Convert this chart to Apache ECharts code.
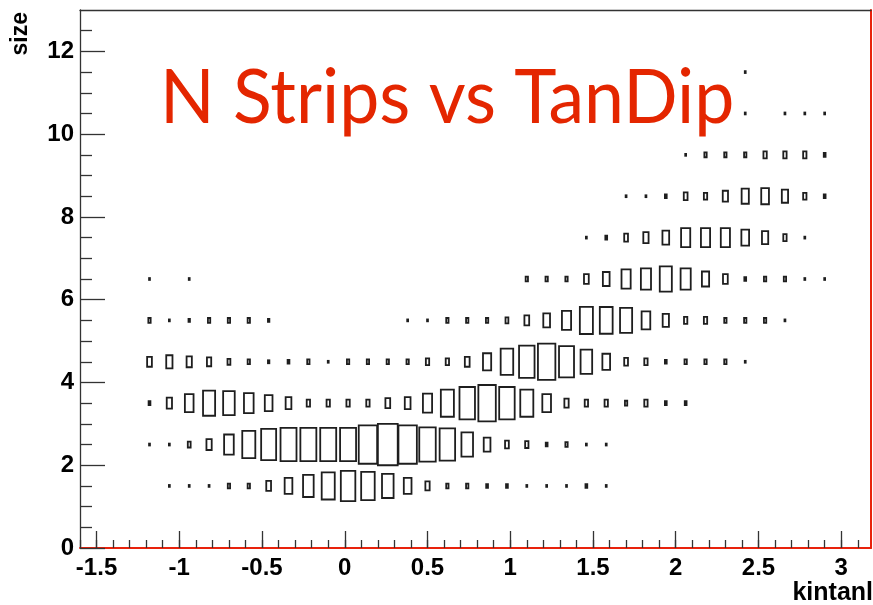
<!DOCTYPE html>
<html>
<head>
<meta charset="utf-8">
<script src="https://cdn.jsdelivr.net/npm/echarts@6/dist/echarts.min.js"></script>
<style>
  html, body { margin: 0; padding: 0; background: #ffffff; }
  #chart { width: 873px; height: 605px; }
</style>
</head>
<body>
<div id="chart"></div>
<script>
// kintanl bins: 40 bins of width 0.12 starting at -1.6
const xBinCenters = [-1.54, -1.42, -1.30, -1.18, -1.06, -0.94, -0.82, -0.70, -0.58, -0.46,
                     -0.34, -0.22, -0.10, 0.02, 0.14, 0.26, 0.38, 0.50, 0.62, 0.74,
                     0.86, 0.98, 1.10, 1.22, 1.34, 1.46, 1.58, 1.70, 1.82, 1.94,
                     2.06, 2.18, 2.30, 2.42, 2.54, 2.66, 2.78, 2.90, 3.02, 3.14];
const xBinWidth = 0.12;
const yBinHeight = 1;

// strip-count rows (bin centres) and their entries per kintanl bin
const sizeRows = [1.5, 2.5, 3.5, 4.5, 5.5, 6.5, 7.5, 8.5, 9.5, 10.5, 11.5];

const size1 = [0,0,0,0,2,2,2,13,13,56, 146,277,419,518,451,330,146,45,13,13, 8,8,2,2,2,8,2,0,0,0, 0,0,0,0,0,0,0,0,0,0];
const size2 = [0,0,0,2,2,20,68,229,419,553, 628,628,628,628,834,970,834,667,590,330, 111,35,27,8,13,2,2,0,0,0, 0,0,0,0,0,0,0,0,0,0];
const size3 = [0,0,0,8,68,185,359,330,229,146, 81,27,27,27,27,56,81,206,419,590, 748,590,419,185,45,27,27,13,27,8, 8,0,0,0,0,0,0,0,0,0];
const size4 = [0,0,0,56,96,68,45,20,13,5, 8,13,2,13,13,13,13,27,27,56, 165,388,590,748,553,330,146,35,27,8, 13,13,13,2,0,0,0,0,0,0];
const size5 = [0,0,0,13,2,5,13,13,13,5, 0,0,0,0,0,0,2,2,13,13, 13,20,56,111,206,419,405,359,185,96, 27,27,13,13,13,2,0,0,0,0];
const size6 = [0,0,0,2,0,2,0,0,0,0, 0,0,0,0,0,0,0,0,0,0, 0,0,13,13,13,56,111,206,252,359, 252,128,56,8,13,13,2,2,0,0];
const size7 = [0,0,0,0,0,0,0,0,0,0, 0,0,0,0,0,0,0,0,0,0, 0,0,0,0,0,2,8,35,68,111, 206,206,206,146,96,27,2,0,0,0];
const size8 = [0,0,0,0,0,0,0,0,0,0, 0,0,0,0,0,0,0,0,0,0, 0,0,0,0,0,0,0,2,2,8, 35,27,68,128,146,96,27,8,0,0];
const size9 = [0,0,0,0,0,0,0,0,0,0, 0,0,0,0,0,0,0,0,0,0, 0,0,0,0,0,0,0,0,0,0, 2,13,13,13,27,27,27,8,0,0];
const size10 = [0,0,0,0,0,0,0,0,0,0, 0,0,0,0,0,0,0,0,0,0, 0,0,0,0,0,0,0,0,0,0, 0,0,0,2,0,2,2,2,0,0];
const size11 = [0,0,0,0,0,0,0,0,0,0, 0,0,0,0,0,0,0,0,0,0, 0,0,0,0,0,0,0,0,0,0, 0,0,0,2,0,0,0,0,0,0];
const rowCounts = [size1, size2, size3, size4, size5, size6, size7, size8, size9, size10, size11];

// axis ticks and labels
const xMajorTicks = [-1.5, -1, -0.5, 0, 0.5, 1, 1.5, 2, 2.5, 3];
const xMinorTicks = [-1.6, -1.5, -1.4, -1.3, -1.2, -1.1, -1.0, -0.9, -0.8, -0.7, -0.6, -0.5, -0.4, -0.3, -0.2, -0.1,
                     0, 0.1, 0.2, 0.3, 0.4, 0.5, 0.6, 0.7, 0.8, 0.9, 1.0, 1.1, 1.2, 1.3, 1.4, 1.5, 1.6, 1.7, 1.8, 1.9,
                     2.0, 2.1, 2.2, 2.3, 2.4, 2.5, 2.6, 2.7, 2.8, 2.9, 3.0, 3.1];
const yMajorTicks = [0, 2, 4, 6, 8, 10, 12];
const yMinorTicks = [0.5, 1, 1.5, 2.5, 3, 3.5, 4.5, 5, 5.5, 6.5, 7, 7.5, 8.5, 9, 9.5, 10.5, 11, 11.5, 12.5];

const titleText = 'N Strips vs TanDip';
const xTitle = 'kintanl';
const yTitle = 'size';

// flatten into [x, y, count] cells
const cells = [];
rowCounts.forEach(function (row, r) {
  row.forEach(function (c, i) {
    if (c > 0) cells.push([xBinCenters[i], sizeRows[r], c]);
  });
});
const maxCount = Math.max.apply(null, cells.map(function (d) { return d[2]; }));

const axisColor = '#333333';
const redLine = '#e8220c';
const labelFont = { fontFamily: 'Liberation Sans, Arial, sans-serif', fontWeight: 'bold', fontSize: 24, color: '#000000' };

// box size grows with the square root of the cell content (area proportional to content)
function renderBox(params, api) {
  const x = api.value(0), y = api.value(1), v = api.value(2);
  const s = Math.sqrt(v / maxCount);
  const c = api.coord([x, y]);
  const sz = api.size([xBinWidth * s, yBinHeight * s]);
  return {
    type: 'rect',
    shape: { x: c[0] - sz[0] / 2, y: c[1] - sz[1] / 2, width: sz[0], height: sz[1] },
    style: { fill: 'none', stroke: '#1e1e1e', lineWidth: 1.8 }
  };
}

const chart = echarts.init(document.getElementById('chart'), null, { renderer: 'canvas' });

const xMin = -1.6, xMax = 3.18, yMin = 0, yMax = 13;

chart.setOption({
  animation: false,
  backgroundColor: '#ffffff',
  grid: { left: 80, top: 10, width: 791, height: 538, containLabel: false },
  xAxis: [
    {
      type: 'value', position: 'bottom', min: xMin, max: xMax,
      axisLine: { show: true, onZero: false, lineStyle: { color: redLine, width: 2 } },
      axisTick: { show: true, inside: true, length: 17, customValues: xMajorTicks, lineStyle: { color: axisColor, width: 1.3 } },
      axisLabel: Object.assign({ show: true, margin: 8, customValues: xMajorTicks, formatter: function (v) { return String(v); } }, labelFont),
      splitLine: { show: false }
    },
    {
      type: 'value', position: 'bottom', min: xMin, max: xMax,
      axisLine: { show: false, onZero: false },
      axisTick: { show: true, inside: true, length: 8, customValues: xMinorTicks, lineStyle: { color: axisColor, width: 1.3 } },
      axisLabel: { show: false },
      splitLine: { show: false }
    },
    {
      type: 'value', position: 'top', min: xMin, max: xMax,
      axisLine: { show: true, onZero: false, lineStyle: { color: axisColor, width: 1.3 } },
      axisTick: { show: false }, axisLabel: { show: false }, splitLine: { show: false }
    }
  ],
  yAxis: [
    {
      type: 'value', position: 'left', min: yMin, max: yMax,
      axisLine: { show: true, onZero: false, lineStyle: { color: axisColor, width: 1.3 } },
      axisTick: { show: true, inside: true, length: 25, customValues: yMajorTicks, lineStyle: { color: axisColor, width: 1.3 } },
      axisLabel: Object.assign({ show: true, margin: 6, customValues: yMajorTicks, padding: [3, 0, 0, 0] }, labelFont),
      splitLine: { show: false }
    },
    {
      type: 'value', position: 'left', min: yMin, max: yMax,
      axisLine: { show: false, onZero: false },
      axisTick: { show: true, inside: true, length: 12, customValues: yMinorTicks, lineStyle: { color: axisColor, width: 1.3 } },
      axisLabel: { show: false },
      splitLine: { show: false }
    },
    {
      type: 'value', position: 'right', min: yMin, max: yMax,
      axisLine: { show: true, onZero: false, lineStyle: { color: redLine, width: 2 } },
      axisTick: { show: false }, axisLabel: { show: false }, splitLine: { show: false }
    }
  ],
  series: [{
    type: 'custom',
    coordinateSystem: 'cartesian2d',
    xAxisIndex: 0, yAxisIndex: 0,
    data: cells,
    encode: { x: 0, y: 1 },
    renderItem: renderBox,
    silent: true,
    clip: false
  }],
  graphic: [
    {
      type: 'text', x: 160, y: 99, scaleX: 0.955, z: 10,
      style: {
        text: titleText, fill: '#e42600',
        font: '75px Lato, "Open Sans", sans-serif',
        align: 'left', verticalAlign: 'middle'
      }
    },
    {
      type: 'text', x: 21, y: 12, rotation: Math.PI / 2, z: 10,
      style: {
        text: yTitle, fill: '#000000',
        font: 'bold 23px "Liberation Sans", Arial, sans-serif',
        align: 'right', verticalAlign: 'middle'
      }
    },
    {
      type: 'text', x: 873, y: 593, z: 10,
      style: {
        text: xTitle, fill: '#000000',
        font: 'bold 25px "Liberation Sans", Arial, sans-serif',
        align: 'right', verticalAlign: 'middle'
      }
    }
  ]
});
</script>
</body>
</html>
